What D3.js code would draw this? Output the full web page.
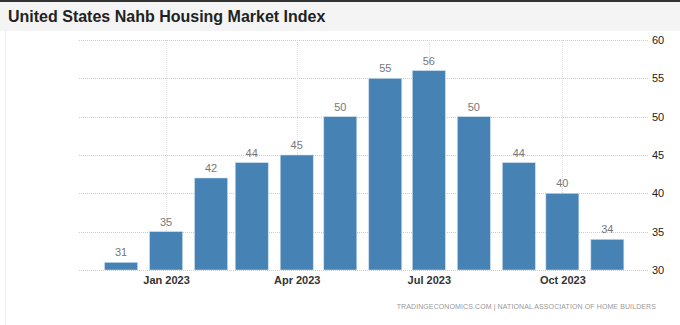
<!DOCTYPE html>
<html>
<head>
<meta charset="utf-8">
<script src="https://cdn.jsdelivr.net/npm/d3@7"></script>
<style>
  body { margin: 0; background: #fff; }
  svg { display: block; font-family: Arial, "Liberation Sans", sans-serif; }
</style>
</head>
<body>
<script>
var months = ["2022-12", "2023-01", "2023-02", "2023-03", "2023-04", "2023-05",
              "2023-06", "2023-07", "2023-08", "2023-09", "2023-10", "2023-11"];
var values = [31, 35, 42, 44, 45, 50, 55, 56, 50, 44, 40, 34];
var yTicks = [30, 35, 40, 45, 50, 55, 60];
var xTicks = ["2023-01", "2023-04", "2023-07", "2023-10"];

var parse = d3.timeParse("%Y-%m");
var data = months.map(function(m, i) { return {date: parse(m), value: values[i]}; });

var width = 680, height = 325;
var plot = {left: 79, right: 648, top: 40, bottom: 270};

var svg = d3.select("body")
            .append("svg")
            .attr("width", width)
            .attr("height", height);

// header band
svg.append("rect").attr("x", 0).attr("y", 0).attr("width", width).attr("height", 31).attr("fill", "#f4f4f4");
svg.append("rect").attr("x", 0).attr("y", 0).attr("width", width).attr("height", 2).attr("fill", "#333");
svg.append("line").attr("x1", 5.5).attr("x2", 5.5).attr("y1", 31).attr("y2", height)
   .attr("stroke", "#eee");

svg.append("text")
   .attr("x", 8)
   .attr("y", 22)
   .attr("font-size", "16px")
   .attr("font-weight", "bold")
   .attr("fill", "#222")
   .text("United States Nahb Housing Market Index");

var x = d3.scaleTime()
          .domain([new Date(2022, 10, 2), new Date(2023, 10, 29)])
          .range([plot.left, plot.right]);

var y = d3.scaleLinear()
          .domain([30, 60])
          .range([plot.bottom, plot.top]);

// horizontal grid
svg.append("g")
   .selectAll("line")
   .data(yTicks)
   .enter().append("line")
   .attr("x1", plot.left)
   .attr("x2", plot.right)
   .attr("y1", function(d) { return Math.round(y(d)) + 0.5; })
   .attr("y2", function(d) { return Math.round(y(d)) + 0.5; })
   .attr("stroke", "#ccc")
   .attr("stroke-dasharray", "1,1");

// vertical grid
svg.append("g")
   .selectAll("line")
   .data(xTicks)
   .enter().append("line")
   .attr("x1", function(d) { return Math.round(x(parse(d))) + 0.5; })
   .attr("x2", function(d) { return Math.round(x(parse(d))) + 0.5; })
   .attr("y1", plot.top)
   .attr("y2", plot.bottom)
   .attr("stroke", "#ddd")
   .attr("stroke-dasharray", "1,1");

// right axis
var yAxis = svg.append("g")
   .attr("transform", "translate(" + plot.right + ",0)")
   .call(d3.axisRight(y).tickValues(yTicks).tickSize(0).tickPadding(4));
yAxis.select(".domain").remove();
yAxis.selectAll("text").attr("font-size", "11px").attr("fill", "#222").attr("font-family", "Arial, 'Liberation Sans', sans-serif");

// bottom axis
var xAxis = svg.append("g")
   .attr("transform", "translate(0," + plot.bottom + ")")
   .call(d3.axisBottom(x).tickValues(xTicks.map(parse)).tickFormat(d3.timeFormat("%b %Y")).tickSize(0).tickPadding(6));
xAxis.select(".domain").remove();
xAxis.selectAll("text").attr("font-size", "11px").attr("font-weight", "bold").attr("fill", "#333").attr("font-family", "Arial, 'Liberation Sans', sans-serif");

var barW = 33;

svg.selectAll(".bar")
   .data(data)
   .enter().append("rect")
   .attr("class", "bar")
   .attr("x", function(d) { return x(d.date) - barW / 2; })
   .attr("width", barW)
   .attr("y", function(d) { return y(d.value); })
   .attr("height", function(d) { return plot.bottom - y(d.value); })
   .attr("fill", "#4682b4")
   .attr("stroke", "#c9dcec")
   .attr("stroke-width", 0.6);

svg.selectAll(".lbl")
   .data(data)
   .enter().append("text")
   .attr("class", "lbl")
   .attr("x", function(d) { return x(d.date); })
   .attr("y", function(d) { return y(d.value) - 6; })
   .attr("text-anchor", "middle")
   .attr("font-size", "11px")
   .attr("fill", "#777")
   .text(function(d) { return d.value; });

svg.append("text")
   .attr("x", 656)
   .attr("y", 309)
   .attr("text-anchor", "end")
   .attr("font-size", "7px")
   .attr("letter-spacing", "0.1px")
   .attr("fill", "#999")
   .text("TRADINGECONOMICS.COM  |  NATIONAL ASSOCIATION OF HOME BUILDERS");
</script>
</body>
</html>
